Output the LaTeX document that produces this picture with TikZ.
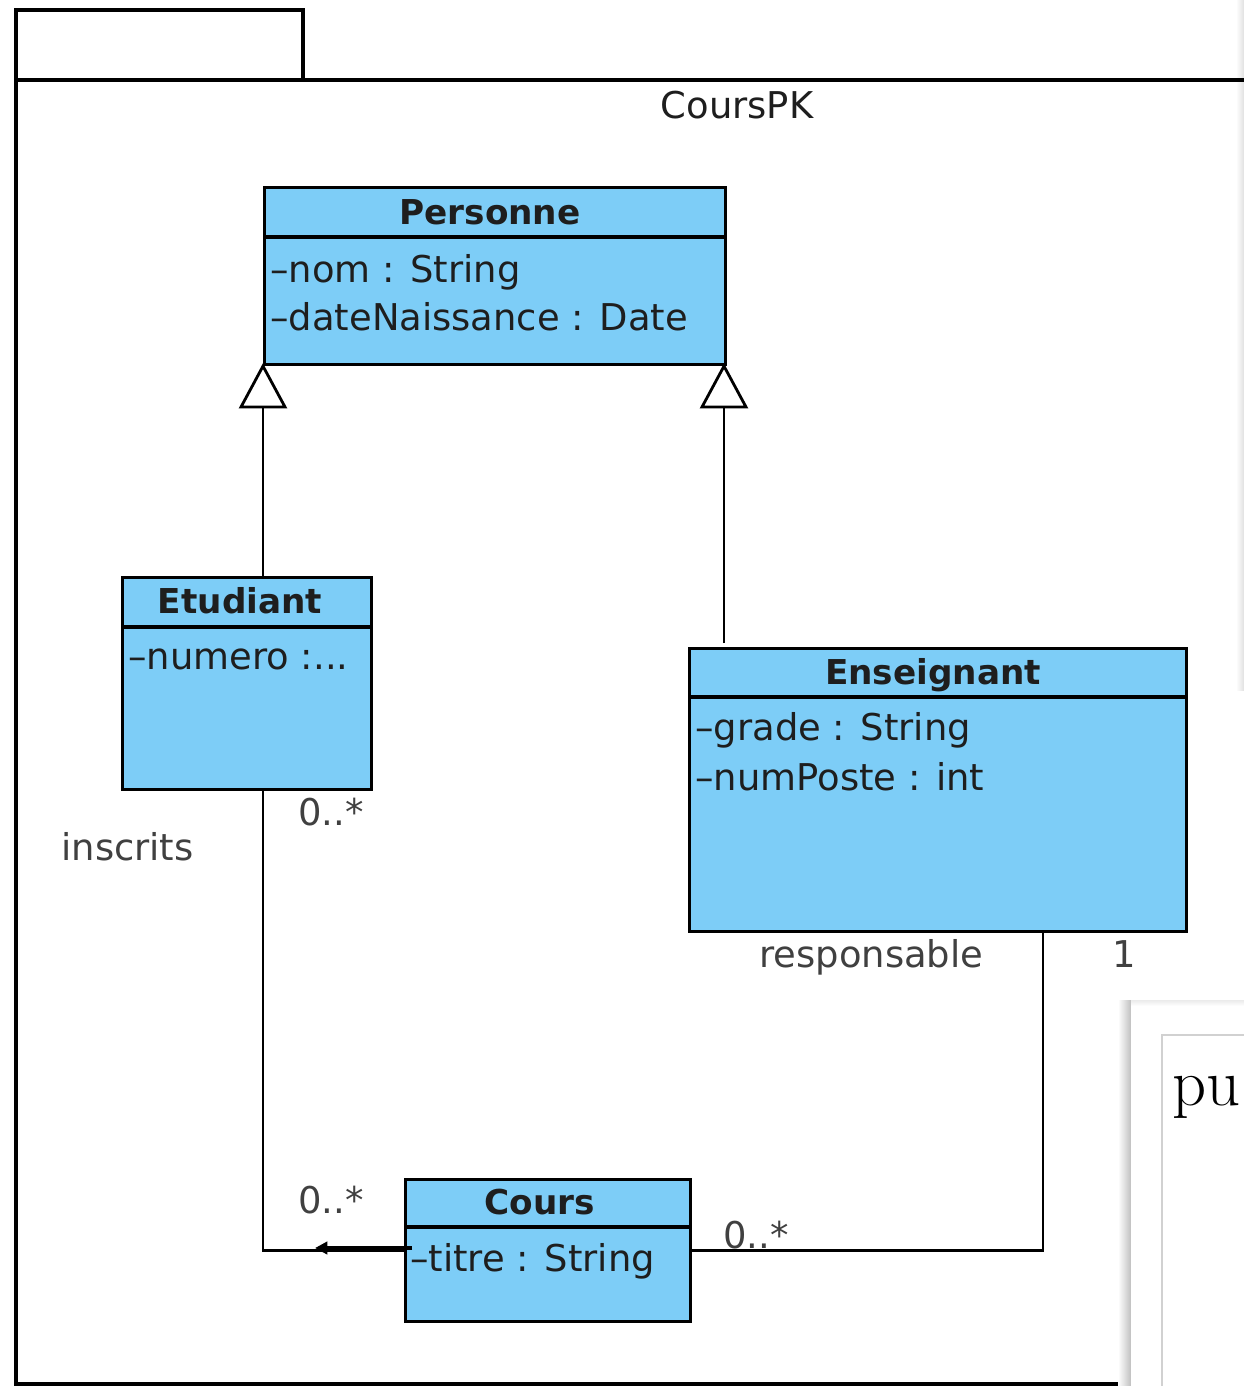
\documentclass[tikz,border=0pt]{standalone}
\usepackage{fontspec}
\newfontfamily\djv{DejaVu Sans}
\usetikzlibrary{arrows.meta}
\definecolor{umlblue}{RGB}{125,205,247}
\definecolor{txtgray}{RGB}{30,30,30}
\tikzset{
  cls/.style={draw=black, fill=umlblue, line width=1.8pt, anchor=north west, inner sep=0pt},
  divider/.style={line width=1.8pt},
  ttl/.style={font=\djv\fontsize{19.5}{23}\selectfont\bfseries, anchor=base, inner sep=0pt, text=txtgray},
  attr/.style={font=\djv\fontsize{21}{25}\selectfont, anchor=base west, inner sep=0pt, text=txtgray},
  lbl/.style={font=\djv\fontsize{21}{25}\selectfont, anchor=base west, inner sep=0pt, text=txtgray!85},
  conn/.style={line width=1.6pt},
  pkg/.style={line width=1.9pt},
}
\begin{document}
\begin{tikzpicture}[x=0.02cm, y=-0.02cm]
\useasboundingbox (0,0) rectangle (1244,1386);
\clip (0,0) rectangle (1244,1386);
\fill[white] (0,0) rectangle (1244,1386);
% right edge faint shadow
\shade[left color=white, right color=black!12] (1236,0) rectangle (1244,690);

% package
\draw[pkg] (16,80) rectangle (303,10);
\draw[pkg] (1260,80) -- (16,80) -- (16,1384) -- (1260,1384);
\node[font=\djv\fontsize{21}{25}\selectfont, anchor=base, inner sep=0pt, text=txtgray] (pkgname) at (737,118) {CoursPK};

% classes
\node[cls, minimum width=9.22cm, minimum height=3.54cm] (pers) at (263,186) {};
\draw[divider] (263,237) -- (724,237);
\node[ttl] (perst) at (490,224) {Personne};
\node[attr] (pa1) at (270,282) {–nom : String};
\node[attr] (pa2) at (270,330) {–dateNaissance : Date};

\node[cls, minimum width=4.98cm, minimum height=4.24cm] (etud) at (121,576) {};
\draw[divider] (121,627) -- (370,627);
\node[ttl] (etudt) at (240,613) {Etudiant};
\node[attr] (ea1) at (128,669) {–numero :...};

\node[cls, minimum width=9.94cm, minimum height=5.66cm] (ens) at (688,647) {};
\draw[divider] (688,697) -- (1185,697);
\node[ttl] (enst) at (933,684) {Enseignant};
\node[attr] (na1) at (695,740) {–grade : String};
\node[attr] (na2) at (695,790) {–numPoste : int};

\node[cls, minimum width=5.70cm, minimum height=2.84cm] (cours) at (404,1178) {};
\draw[divider] (404,1227) -- (689,1227);
\node[ttl] (courst) at (540,1214) {Cours};
\node[attr] (ca1) at (410,1271) {–titre : String};

% generalizations
\coordinate (g1) at (263,407);
\coordinate (g2) at (724,407);
\draw[conn] (etud.north -| g1) -- (g1);
\draw[conn, fill=white] (241,407) -- (pers.south -| g1) -- (285,407) -- cycle;
\draw[conn] (724,643) -- (g2);
\draw[conn, fill=white] (702,407) -- (pers.south -| g2) -- (746,407) -- cycle;

% associations
\coordinate (x1) at (263,0);
\coordinate (x2) at (1043,0);
\draw[conn] (etud.south -| x1) |- (cours.west);
\draw[conn] (ens.south -| x2) |- (cours.east);
\coordinate (navtip) at (315,1248);
\coordinate (navstart) at (412,1248);
\draw[line width=2.5pt, -{Triangle[length=7pt,width=7pt]}] (navstart) -- (navtip);

% labels
\node[lbl] (m1) at (298,825) {0..*};
\node[lbl] (r1) at (61,860) {inscrits};
\node[lbl] (m2) at (298,1213) {0..*};
\node[lbl] (r2) at (759,967) {responsable};
\node[lbl, anchor=base] (m3) at (1124,967) {1};
\node[lbl] (m4) at (723,1248) {0..*};

% overlay window (bottom right)
\shade[left color=white, right color=black!25] (1118,1000) rectangle (1131,1386);
\fill[white] (1131,1000) rectangle (1244,1386);
\shade[top color=black!8, bottom color=white] (1131,1000) rectangle (1244,1006);
\draw[black!18, line width=0.8pt] (1162,1386) -- (1162,1035) -- (1250,1035);
\node[font=\fontsize{38}{40}\selectfont, anchor=base west, inner sep=0pt] (pu) at (1172,1105) {pu};
\end{tikzpicture}
\end{document}
